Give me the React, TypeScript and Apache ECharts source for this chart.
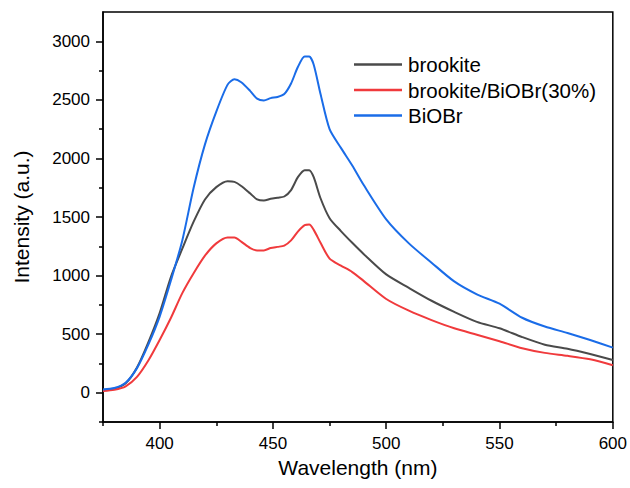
import React, { useEffect, useRef } from "react";
import * as echarts from "echarts";

const wavelengths = [375, 380, 385, 390, 395, 400, 405, 410, 415, 420, 425, 430, 433, 436, 440, 443, 446, 449, 452, 455, 458, 461, 464, 466, 468, 471, 475, 480, 485, 490, 500, 510, 520, 530, 540, 550, 560, 570, 580, 590, 600];

const brookite = [25, 35, 80, 215, 430, 680, 990, 1230, 1460, 1650, 1755, 1805, 1800, 1765, 1700, 1650, 1640, 1655, 1665, 1675, 1730, 1840, 1900, 1900, 1840, 1660, 1490, 1380, 1280, 1185, 1010, 895, 785, 690, 605, 550, 475, 410, 375, 330, 280];

const composite = [15, 25, 55, 135, 275, 450, 640, 850, 1020, 1170, 1275, 1325, 1325, 1290, 1235, 1215, 1215, 1235, 1245, 1255, 1300, 1375, 1430, 1435, 1390, 1280, 1145, 1085, 1030, 955, 800, 700, 620, 550, 495, 440, 380, 340, 315, 285, 235];

const biobr = [28, 40, 85, 210, 410, 650, 960, 1300, 1750, 2120, 2400, 2630, 2675, 2650, 2575, 2510, 2495, 2515, 2525, 2550, 2640, 2780, 2870, 2870, 2800, 2550, 2250, 2090, 1940, 1775, 1480, 1275, 1110, 950, 840, 760, 640, 565, 510, 450, 385];

const seriesNames = ["brookite", "brookite/BiOBr(30%)", "BiOBr"];
const seriesColors = ["#4a4a4a", "#f03a3c", "#1a6ce8"];

const xMajor = [400, 450, 500, 550, 600];
const xMinor = [375, 425, 475, 525, 575];
const yMajor = [0, 500, 1000, 1500, 2000, 2500, 3000];
const yMinor = [-250, 250, 750, 1250, 1750, 2250, 2750];

const FONT = "'Liberation Sans', Arial, sans-serif";

export default function App() {
  const ref = useRef<HTMLDivElement>(null);
  useEffect(() => {
    if (!ref.current) return;
    const chart = echarts.init(ref.current, undefined, { renderer: "svg" });
    const pair = (ys: number[]) => wavelengths.map((x, i) => [x, ys[i]]);
    const allData = [brookite, composite, biobr];
    const lineStyleAxis = { color: "#000", width: 1.5 };
    chart.setOption({
      animation: false,
      backgroundColor: "#fff",
      textStyle: { fontFamily: FONT },
      grid: {
        left: 103,
        right: 16.5,
        top: 12,
        bottom: 66,
        show: true,
        borderColor: "#000",
        borderWidth: 1.5,
        backgroundColor: "transparent",
      },
      legend: {
        orient: "vertical",
        left: 349,
        top: 49,
        itemWidth: 48,
        itemHeight: 2.5,
        itemGap: 4.5,
        icon: "rect",
        data: seriesNames,
        textStyle: { fontSize: 20.5, color: "#000", fontFamily: FONT, padding: [0, 0, 0, 1] },
      },
      xAxis: [
        {
          type: "value",
          min: 375,
          max: 600,
          position: "bottom",
          axisLine: { show: true, onZero: false, lineStyle: lineStyleAxis },
          axisTick: { show: true, inside: false, length: 7, customValues: xMajor, lineStyle: lineStyleAxis },
          axisLabel: {
            customValues: xMajor,
            fontSize: 17,
            color: "#000",
            margin: 13,
            fontFamily: FONT,
            formatter: (v: number) => String(v),
          },
          splitLine: { show: false },
          name: "Wavelength (nm)",
          nameLocation: "middle",
          nameGap: 35,
          nameTextStyle: { fontSize: 21, color: "#000", fontFamily: FONT },
        },
        {
          type: "value",
          min: 375,
          max: 600,
          position: "bottom",
          axisLine: { show: false, onZero: false },
          axisTick: { show: true, inside: false, length: 4, customValues: xMinor, lineStyle: lineStyleAxis },
          axisLabel: { show: false },
          splitLine: { show: false },
        },
      ],
      yAxis: [
        {
          type: "value",
          min: -250,
          max: 3250,
          position: "left",
          axisLine: { show: true, onZero: false, lineStyle: lineStyleAxis },
          axisTick: { show: true, inside: false, length: 7, customValues: yMajor, lineStyle: lineStyleAxis },
          axisLabel: {
            customValues: yMajor,
            fontSize: 17,
            color: "#000",
            margin: 13,
            fontFamily: FONT,
            formatter: (v: number) => String(v),
          },
          splitLine: { show: false },
          name: "Intensity (a.u.)",
          nameLocation: "middle",
          nameGap: 71,
          nameRotate: 90,
          nameTextStyle: { fontSize: 21, color: "#000", fontFamily: FONT },
        },
        {
          type: "value",
          min: -250,
          max: 3250,
          position: "left",
          axisLine: { show: false, onZero: false },
          axisTick: { show: true, inside: false, length: 4, customValues: yMinor, lineStyle: lineStyleAxis },
          axisLabel: { show: false },
          splitLine: { show: false },
        },
      ],
      series: seriesNames.map((name, i) => ({
        name,
        type: "line",
        xAxisIndex: 0,
        yAxisIndex: 0,
        data: pair(allData[i]),
        showSymbol: false,
        symbol: "none",
        smooth: 0.25,
        lineStyle: { color: seriesColors[i], width: 2 },
        itemStyle: { color: seriesColors[i] },
      })),
    });
    return () => chart.dispose();
  }, []);
  return (
    <div
      ref={ref}
      style={{ position: "fixed", left: 0, top: 0, width: 630, height: 488, background: "#fff" }}
    />
  );
}
